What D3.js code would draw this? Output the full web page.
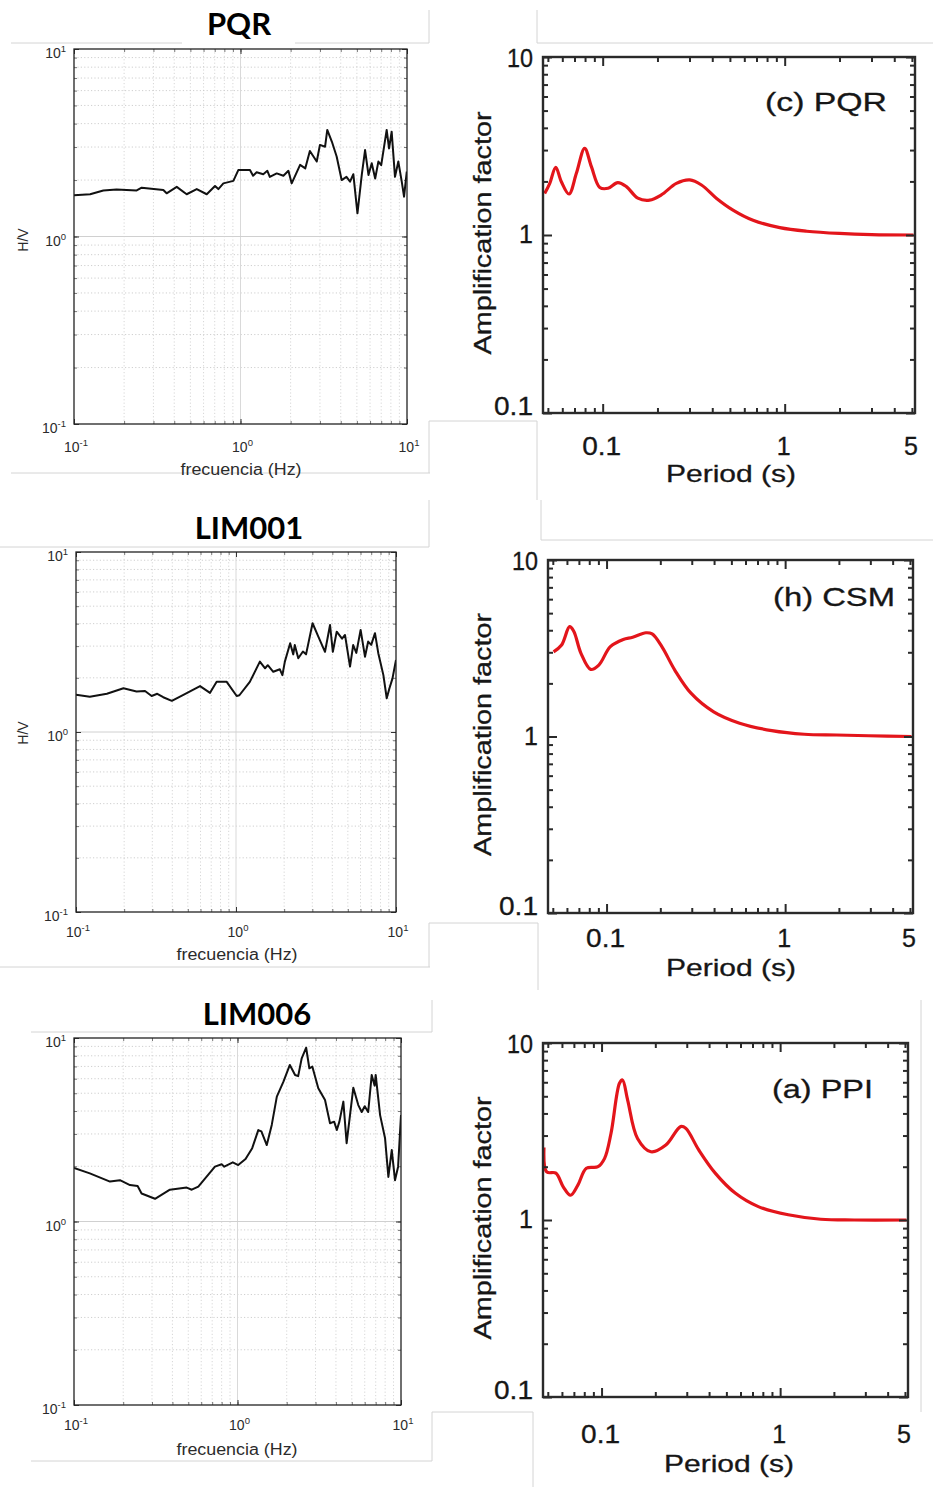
<!DOCTYPE html>
<html><head><meta charset="utf-8">
<script src="https://cdn.jsdelivr.net/npm/d3@7"></script>
<style>body{margin:0;background:#fff}svg{display:block}</style>
</head><body><svg id="c" width="933" height="1487"></svg>
<script>
// ---------------- DATA ----------------
// H/V spectral ratios (left column)
const pqrHvFreq = [0.1,0.125,0.150,0.180,0.238,0.255,0.344,0.360,0.414,0.475,0.546,0.627,0.703,0.736,0.789,0.906,0.970,1.14,1.19,1.25,1.37,1.45,1.50,1.65,1.81,1.94,2.03,2.28,2.45,2.61,2.87,3.00,3.22,3.32,3.54,3.78,4.05,4.33,4.55,4.76,5.04,5.35,5.60,5.87,6.14,6.44,6.73,7.0,7.55,7.8,8.09,8.47,8.87,9.3,9.6,9.97];
const pqrHvRatio = [1.66,1.68,1.76,1.78,1.76,1.82,1.77,1.70,1.84,1.68,1.79,1.68,1.86,1.79,1.92,1.98,2.26,2.26,2.11,2.20,2.15,2.24,2.08,2.17,2.11,2.24,1.92,2.41,2.31,2.86,2.51,3.08,3.01,3.70,3.20,2.67,2.00,2.08,1.96,2.15,1.33,2.13,2.89,2.13,2.46,2.04,2.51,2.4,3.70,2.95,3.62,2.08,2.51,1.96,1.63,2.22];

const lim001HvFreq = [0.1,0.122,0.156,0.198,0.239,0.27,0.297,0.322,0.351,0.397,0.469,0.596,0.688,0.757,0.875,1.01,1.05,1.22,1.41,1.52,1.58,1.71,1.88,1.95,2.02,2.18,2.28,2.33,2.45,2.62,2.74,3.01,3.27,3.60,3.87,4.03,4.26,4.6,4.80,5.16,5.4,5.65,6.01,6.40,6.7,7.0,7.39,7.75,8.34,8.75,9.1,9.5,10];
const lim001HvRatio = [1.61,1.57,1.63,1.75,1.68,1.69,1.585,1.63,1.56,1.49,1.61,1.80,1.65,1.90,1.90,1.585,1.6,1.90,2.46,2.26,2.35,2.16,2.23,2.07,2.46,3.11,2.7,3.04,2.57,2.80,2.7,4.02,3.39,2.79,3.93,2.79,3.61,3.3,3.46,2.31,3.04,2.75,3.69,2.62,3.18,3.05,3.54,2.74,2.07,1.54,1.75,1.98,2.51];

const lim006HvFreq = [0.1,0.125,0.166,0.191,0.220,0.245,0.259,0.313,0.386,0.489,0.525,0.576,0.728,0.80,0.83,0.936,1.01,1.12,1.23,1.34,1.40,1.51,1.62,1.74,1.91,2.09,2.25,2.35,2.47,2.63,2.75,2.87,3.12,3.43,3.68,3.9,4.05,4.2,4.44,4.65,5.11,5.48,5.75,6.0,6.3,6.62,6.9,7.0,7.45,7.99,8.37,8.78,9.19,9.6,10];
const lim006HvRatio = [1.96,1.83,1.65,1.68,1.58,1.56,1.42,1.33,1.49,1.53,1.49,1.55,1.99,2.05,1.99,2.10,2.03,2.19,2.51,3.15,3.1,2.61,3.36,4.79,5.78,7.13,6.29,6.2,7.75,8.85,6.84,6.98,5.32,4.59,3.43,3.5,3.15,3.5,4.50,2.67,5.36,4.31,3.95,4.25,3.95,6.29,5.5,6.29,3.80,2.84,1.75,2.45,1.68,1.99,3.80];

// Amplification factors (right column)
const pqrPeriod = [0.048,0.0512,0.0552,0.0593,0.0653,0.0717,0.0796,0.0867,0.0964,0.107,0.121,0.135,0.156,0.181,0.210,0.254,0.301,0.349,0.421,0.520,0.670,0.94,1.32,2.0,3.0,5.1];
const pqrAmp    = [1.71,1.95,2.40,1.99,1.70,2.22,3.07,2.42,1.85,1.83,1.97,1.87,1.61,1.57,1.68,1.95,2.04,1.91,1.61,1.38,1.21,1.10,1.05,1.02,1.005,1.0];

const csmPeriod = [0.0505,0.056,0.0621,0.0655,0.0719,0.0815,0.0905,0.105,0.124,0.140,0.166,0.180,0.204,0.241,0.297,0.398,0.556,0.842,1.28,1.94,2.94,5.1];
const csmAmp    = [3.02,3.30,4.19,3.95,2.96,2.40,2.54,3.23,3.55,3.65,3.87,3.81,3.23,2.38,1.76,1.38,1.19,1.08,1.03,1.02,1.01,1.0];

const ppiPeriod = [0.0476,0.0493,0.0555,0.061,0.067,0.0738,0.0822,0.0955,0.104,0.113,0.126,0.131,0.140,0.159,0.189,0.229,0.277,0.296,0.350,0.433,0.560,0.755,1.11,1.69,2.60,5.1];
const ppiAmp    = [2.57,1.87,1.84,1.54,1.38,1.58,1.96,2.00,2.23,3.09,5.92,6.18,4.76,2.89,2.43,2.65,3.37,3.30,2.49,1.84,1.42,1.19,1.07,1.01,1.0,1.0];

// Axis domains and tick labels
const hvDomain = [0.1, 10];
const hvTickValues = [0.1, 1, 10];
const hvTickExps = ["-1", "0", "1"];
const ampDomain = [0.1, 10];
const ampTickValues = [0.1, 1, 10];
const ampTickLabels = ["0.1", "1", "10"];
const periodDomain = [0.047, 5.2];
const periodTickValues = [0.1, 1, 5];
const periodTickLabels = ["0.1", "1", "5"];

const hvTitles = ["PQR", "LIM001", "LIM006"];
const ampTitles = ["(c) PQR", "(h) CSM", "(a) PPI"];

// ---------------- DRAW ----------------
const FONT = "'Liberation Sans', Arial, Helvetica, sans-serif";
const svg = d3.select("#c");
svg.append("rect").attr("width", 933).attr("height", 1487).attr("fill", "#fff");

function logTicks(lo, hi) {
  const out = [];
  for (let e = -2; e <= 1; e++) for (let k = 1; k <= 9; k++) {
    const v = +(k * Math.pow(10, e)).toPrecision(3);
    if (v >= lo * 0.999 && v <= hi * 1.001) out.push(v);
  }
  return out;
}
const isMajor = v => Math.abs(Math.log10(v) - Math.round(Math.log10(v))) < 1e-6;

// slide frame lines (light gray)
const frameLines = [
  [11,43,182,43],[295,43,429,43],[429,10,429,43],[537,10,537,43],[537,43,933,43],
  [11,473,430,473],[429,421,429,473],[429,421,537,421],[537,421,537,500],
  [0,547,429,547],[429,500,429,547],[541,500,541,540],[541,540,933,540],
  [0,967,430,967],[429,923,429,967],[429,923,538,923],[538,923,538,990],
  [31,1032,432,1032],[432,1000,432,1032],[31,1461,432,1461],[432,1412,432,1461],
  [432,1412,533,1412],[533,1412,533,1487],[921,1000,921,1412]
];
svg.append("g").selectAll("line").data(frameLines).join("line")
  .attr("x1", d => d[0]).attr("y1", d => d[1]).attr("x2", d => d[2]).attr("y2", d => d[3])
  .attr("stroke", "#d4d4d4").attr("stroke-width", 1);

let clipId = 0;
function styleAxis(g, color, w) {
  g.select(".domain").remove();
  g.selectAll(".tick line").attr("stroke", color).attr("stroke-width", w);
}

function hvPanel(o) {
  const g = svg.append("g");
  const x = d3.scaleLog().domain(hvDomain).range([o.left, o.right]);
  const y = d3.scaleLog().domain(hvDomain).range([o.bottom, o.top]);
  const ticks = logTicks(hvDomain[0], hvDomain[1]);
  const minor = ticks.filter(v => !isMajor(v));
  const major = ticks.filter(v => isMajor(v) && v > hvDomain[0] && v < hvDomain[1]);

  g.selectAll(null).data(minor).join("line")
    .attr("x1", d => x(d)).attr("x2", d => x(d)).attr("y1", o.top).attr("y2", o.bottom)
    .attr("stroke", "#d3d3d3").attr("stroke-width", 0.9).attr("stroke-dasharray", "1.2,2.2");
  g.selectAll(null).data(minor).join("line")
    .attr("y1", d => y(d)).attr("y2", d => y(d)).attr("x1", o.left).attr("x2", o.right)
    .attr("stroke", "#c9c9c9").attr("stroke-width", 0.9).attr("stroke-dasharray", "1.2,2.2");
  g.selectAll(null).data(major).join("line")
    .attr("x1", d => x(d)).attr("x2", d => x(d)).attr("y1", o.top).attr("y2", o.bottom)
    .attr("stroke", "#d9d9d9").attr("stroke-width", 1);
  g.selectAll(null).data(major).join("line")
    .attr("y1", d => y(d)).attr("y2", d => y(d)).attr("x1", o.left).attr("x2", o.right)
    .attr("stroke", "#d0d0d0").attr("stroke-width", 1);

  const axes = [
    [d3.axisBottom(x), `translate(0,${o.bottom})`], [d3.axisTop(x), `translate(0,${o.top})`],
    [d3.axisLeft(y), `translate(${o.left},0)`], [d3.axisRight(y), `translate(${o.right},0)`]
  ];
  axes.forEach(([ax, tr]) => {
    g.append("g").attr("transform", tr).call(ax.tickValues(ticks).tickSize(-3).tickFormat(""))
      .call(s => styleAxis(s, "#555", 0.8));
    g.append("g").attr("transform", tr).call(ax.tickValues(hvTickValues).tickSize(-5).tickFormat(""))
      .call(s => styleAxis(s, "#333", 1));
  });

  const id = "clip" + (clipId++);
  g.append("clipPath").attr("id", id).append("rect")
    .attr("x", o.left).attr("y", o.top).attr("width", o.right - o.left).attr("height", o.bottom - o.top);
  g.append("path").datum(d3.zip(o.freq, o.ratio)).attr("clip-path", `url(#${id})`)
    .attr("fill", "none").attr("stroke", "#111").attr("stroke-width", 2).attr("stroke-linejoin", "round")
    .attr("d", d3.line().x(d => x(d[0])).y(d => y(d[1])));

  g.append("rect").attr("x", o.left).attr("y", o.top).attr("width", o.right - o.left).attr("height", o.bottom - o.top)
    .attr("fill", "none").attr("stroke", "#222").attr("stroke-width", 1.3);

  function supLabel(px, py, exp, anchor) {
    const t = g.append("text").attr("x", px).attr("y", py).attr("text-anchor", anchor)
      .attr("font-family", FONT).attr("font-size", 14).attr("fill", "#2b2b2b");
    t.append("tspan").text("10");
    t.append("tspan").attr("dy", -6).attr("font-size", 9.5).text(exp);
  }
  hvTickValues.forEach((v, i) => {
    supLabel(o.left - 8, y(v) + 9, hvTickExps[i], "end");
    supLabel(x(v) + 2, o.bottom + o.xlabOff, hvTickExps[i], "middle");
  });
  g.append("text").attr("x", o.xTitleX).attr("y", o.xTitleY).attr("text-anchor", "middle")
    .attr("font-family", FONT).attr("font-size", 16).attr("fill", "#2b2b2b")
    .attr("textLength", 121).attr("lengthAdjust", "spacingAndGlyphs").text("frecuencia (Hz)");
  if (o.yTitle) {
    g.append("text").attr("transform", `translate(28,${o.yTitleY}) rotate(-90)`).attr("text-anchor", "middle")
      .attr("font-family", FONT).attr("font-size", 14).attr("fill", "#2b2b2b").text("H/V");
  }
  g.append("text").attr("x", o.titleX).attr("y", o.titleY).attr("text-anchor", "middle")
    .attr("font-family", "Lato, 'Open Sans', sans-serif").attr("font-weight", 700).attr("font-size", 31)
    .attr("fill", "#000").text(o.title);
}

function ampPanel(o) {
  const g = svg.append("g");
  const x = d3.scaleLog().domain(periodDomain).range([o.left, o.right]);
  const y = d3.scaleLog().domain(ampDomain).range([o.bottom, o.top]);
  const xt = logTicks(periodDomain[0], periodDomain[1]);
  const yt = logTicks(ampDomain[0], ampDomain[1]);
  const xMinor = xt.filter(v => !isMajor(v)), xMajor = xt.filter(isMajor);
  const yMinor = yt.filter(v => !isMajor(v)), yMajor = yt.filter(isMajor);

  const id = "clip" + (clipId++);
  g.append("clipPath").attr("id", id).append("rect")
    .attr("x", o.left).attr("y", o.top).attr("width", o.right - o.left).attr("height", o.bottom - o.top);
  g.append("path").datum(d3.zip(o.period, o.amp)).attr("clip-path", `url(#${id})`)
    .attr("fill", "none").attr("stroke", "#e3151b").attr("stroke-width", 3.2).attr("stroke-linejoin", "round")
    .attr("d", d3.line().curve(d3.curveCatmullRom.alpha(0.5)).x(d => x(d[0])).y(d => y(d[1])));

  const axes = [
    [d3.axisBottom(x), `translate(0,${o.bottom})`, xMinor, xMajor],
    [d3.axisTop(x), `translate(0,${o.top})`, xMinor, xMajor],
    [d3.axisLeft(y), `translate(${o.left},0)`, yMinor, yMajor],
    [d3.axisRight(y), `translate(${o.right},0)`, yMinor, yMajor]
  ];
  axes.forEach(([ax, tr, mi, ma]) => {
    g.append("g").attr("transform", tr).call(ax.tickValues(mi).tickSize(-5).tickFormat(""))
      .call(s => styleAxis(s, "#2a2a2a", 2));
    g.append("g").attr("transform", tr).call(ax.tickValues(ma).tickSize(-9).tickFormat(""))
      .call(s => styleAxis(s, "#2a2a2a", 2));
  });
  g.append("rect").attr("x", o.left).attr("y", o.top).attr("width", o.right - o.left).attr("height", o.bottom - o.top)
    .attr("fill", "none").attr("stroke", "#2a2a2a").attr("stroke-width", 2.4);

  const txt = (px, py, s, anchor, len, size) => {
    const t = g.append("text").attr("x", px).attr("y", py).attr("text-anchor", anchor)
      .attr("font-family", FONT).attr("font-size", size || 25).attr("fill", "#161616")
      .attr("stroke", "#161616").attr("stroke-width", 0.3).text(s);
    if (len) t.attr("textLength", len).attr("lengthAdjust", "spacingAndGlyphs");
    return t;
  };
  const yOff = [2, 8, 10];
  ampTickValues.forEach((v, i) => {
    const lab = ampTickLabels[i];
    txt(o.left - 10, y(v) + yOff[i], lab, "end", lab.length > 1 ? lab.length * 13 : null);
  });
  periodTickValues.forEach((v, i) => {
    const lab = periodTickLabels[i];
    txt(x(v) - 1, o.xLabY, lab, "middle", lab.length > 1 ? 39 : null);
  });
  txt(o.xTitleX, o.xTitleY, "Period (s)", "middle", 130, 24);
  g.append("text").attr("transform", `translate(491,${(o.top + o.bottom) / 2 - 2}) rotate(-90)`)
    .attr("text-anchor", "middle").attr("font-family", FONT).attr("font-size", 23).attr("fill", "#161616")
    .attr("stroke", "#161616").attr("stroke-width", 0.3)
    .attr("textLength", 243).attr("lengthAdjust", "spacingAndGlyphs").text("Amplification factor");
  txt(o.insetX, o.insetY, o.inset, "start", o.insetLen, 25);
}

hvPanel({left: 74, right: 407, top: 49, bottom: 424, freq: pqrHvFreq, ratio: pqrHvRatio,
  xlabOff: 28, xTitleX: 241, xTitleY: 475, yTitle: true, yTitleY: 240, title: hvTitles[0], titleX: 239, titleY: 35});
hvPanel({left: 76, right: 396, top: 552, bottom: 912, freq: lim001HvFreq, ratio: lim001HvRatio,
  xlabOff: 25, xTitleX: 237, xTitleY: 960, yTitle: true, yTitleY: 733, title: hvTitles[1], titleX: 249, titleY: 539});
hvPanel({left: 74, right: 401, top: 1038, bottom: 1405, freq: lim006HvFreq, ratio: lim006HvRatio,
  xlabOff: 25, xTitleX: 237, xTitleY: 1455, yTitle: false, title: hvTitles[2], titleX: 257, titleY: 1025});

ampPanel({left: 543, right: 915, top: 57, bottom: 413, period: pqrPeriod, amp: pqrAmp,
  xLabY: 455, xTitleX: 731, xTitleY: 482, inset: ampTitles[0], insetX: 765, insetY: 111, insetLen: 122});
ampPanel({left: 548, right: 913, top: 560, bottom: 913, period: csmPeriod, amp: csmAmp,
  xLabY: 947, xTitleX: 731, xTitleY: 976, inset: ampTitles[1], insetX: 773, insetY: 606, insetLen: 122});
ampPanel({left: 543, right: 908, top: 1043, bottom: 1397, period: ppiPeriod, amp: ppiAmp,
  xLabY: 1443, xTitleX: 729, xTitleY: 1472, inset: ampTitles[2], insetX: 772, insetY: 1098, insetLen: 101});
</script></body></html>
